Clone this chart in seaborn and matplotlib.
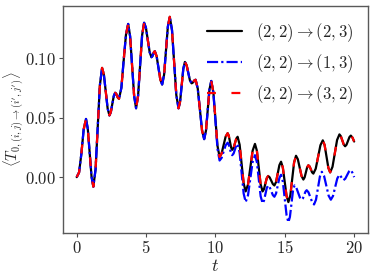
import matplotlib
matplotlib.use('Agg')
import matplotlib.pyplot as plt
import seaborn as sns
import pandas as pd

# Values
# common part of all three curves (t = 0 ... 9.7)
t_early = [0.00, 0.17, 0.34, 0.50, 0.67, 0.80, 0.935, 1.07, 1.20, 1.36, 1.515, 1.67,
           1.83, 1.96, 2.095, 2.23, 2.36, 2.46, 2.565, 2.67, 2.77, 2.84, 2.91, 2.98,
           3.05, 3.22, 3.38, 3.55, 3.71, 3.85, 3.995, 4.14, 4.28, 4.425, 4.57, 4.715,
           4.86, 4.99, 5.125, 5.26, 5.39, 5.45, 5.51, 5.57, 5.63, 5.76, 5.895, 6.03,
           6.16, 6.30, 6.435, 6.57, 6.71, 6.87, 7.025, 7.18, 7.34, 7.455, 7.57, 7.685,
           7.80, 7.92, 8.04, 8.16, 8.28, 8.35, 8.425, 8.50, 8.57, 8.725, 8.88, 9.035,
           9.19, 9.32, 9.445, 9.57, 9.70]
y_early = [0.000, 0.004, 0.020, 0.040, 0.049, 0.0407, 0.0205, 0.0003, -0.008, 0.0066, 0.042, 0.0774,
           0.092, 0.0862, 0.072, 0.0578, 0.052, 0.0548, 0.0615, 0.0682, 0.071, 0.0703, 0.0685, 0.0667,
           0.066, 0.0752, 0.0975, 0.1198, 0.129, 0.1186, 0.0935, 0.0684, 0.058, 0.0685, 0.094, 0.1195,
           0.130, 0.1258, 0.1155, 0.1052, 0.101, 0.1017, 0.1035, 0.1053, 0.106, 0.1019, 0.092, 0.0821,
           0.078, 0.0863, 0.1065, 0.1267, 0.135, 0.1238, 0.0965, 0.0692, 0.058, 0.0637, 0.0775, 0.0913,
           0.097, 0.0944, 0.088, 0.0816, 0.079, 0.0794, 0.0805, 0.0816, 0.082, 0.0747, 0.057, 0.0393,
           0.032, 0.0392, 0.0565, 0.0738, 0.081]

# (2,2)->(2,3), after t = 9.7
t_23_tail = [9.85, 10.0, 10.15, 10.30, 10.445, 10.59, 10.735, 10.88, 10.96, 11.045, 11.13,
             11.21, 11.31, 11.405, 11.50, 11.60, 11.745, 11.89, 12.035, 12.18, 12.35, 12.515,
             12.68, 12.85, 12.99, 13.125, 13.26, 13.40, 13.50, 13.60, 13.70, 13.80, 13.91,
             14.025, 14.14, 14.25, 14.37, 14.49, 14.61, 14.73, 14.86, 14.995, 15.13, 15.26,
             15.40, 15.535, 15.67, 15.81, 15.94, 16.075, 16.21, 16.34, 16.43, 16.52, 16.61,
             16.70, 16.79, 16.88, 16.97, 17.06, 17.23, 17.40, 17.57, 17.74, 17.87, 18.005,
             18.14, 18.27, 18.44, 18.605, 18.77, 18.94, 19.04, 19.145, 19.25, 19.35, 19.45,
             19.555, 19.66, 19.76, 19.88, 20.00]
y_23_tail = [0.0717, 0.049, 0.0263, 0.017, 0.0199, 0.027, 0.0341, 0.037, 0.035, 0.030, 0.025,
             0.023, 0.0246, 0.0285, 0.0324, 0.034, 0.0273, 0.011, -0.0053, -0.012, -0.0062, 0.008,
             0.0222, 0.028, 0.0222, 0.008, -0.0062, -0.012, -0.0101, -0.0055, -0.0009, 0.001, -0.0002,
             -0.003, -0.0058, -0.007, -0.0041, 0.003, 0.0101, 0.013, 0.008, -0.004, -0.016, -0.021,
             -0.0153, -0.0015, 0.0123, 0.018, 0.0151, 0.008, 0.0009, -0.002, -0.0002, 0.004, 0.0082,
             0.010, 0.009, 0.0065, 0.004, 0.003, 0.0071, 0.017, 0.0269, 0.031, 0.0271, 0.0175,
             0.0079, 0.004, 0.0087, 0.020, 0.0313, 0.036, 0.0345, 0.031, 0.0275, 0.026, 0.0273,
             0.0305, 0.0337, 0.035, 0.0333, 0.030]

# (2,2)->(1,3), after t = 9.7
t_13_tail = [9.85, 10.0, 10.15, 10.30, 10.445, 10.59, 10.735, 10.88, 10.96, 11.045, 11.13,
             11.21, 11.31, 11.405, 11.50, 11.60, 11.745, 11.89, 12.035, 12.18, 12.35, 12.515,
             12.68, 12.85, 12.99, 13.125, 13.26, 13.40, 13.50, 13.60, 13.70, 13.80, 13.91,
             14.025, 14.14, 14.25, 14.37, 14.49, 14.61, 14.73, 14.86, 14.995, 15.13, 15.26,
             15.37, 15.48, 15.59, 15.70, 15.83, 15.96, 16.09, 16.22, 16.31, 16.40, 16.49,
             16.58, 16.71, 16.845, 16.98, 17.11, 17.25, 17.39, 17.53, 17.67, 17.83, 17.995,
             18.16, 18.32, 18.475, 18.63, 18.785, 18.94, 19.01, 19.085, 19.16, 19.23, 19.36,
             19.495, 19.63, 19.76, 19.88, 20.00]
y_13_tail = [0.0712, 0.0475, 0.0238, 0.014, 0.0162, 0.0215, 0.0268, 0.029, 0.0275, 0.0238, 0.020,
             0.0185, 0.0199, 0.0233, 0.0266, 0.028, 0.0208, 0.0035, -0.0138, -0.021, -0.0152, -0.0013,
             0.0127, 0.0185, 0.0126, -0.0018, -0.0161, -0.022, -0.0198, -0.0145, -0.0092, -0.007, -0.0084,
             -0.0118, -0.0151, -0.0165, -0.0138, -0.0073, -0.0007, 0.002, -0.0038, -0.018, -0.0322, -0.038,
             -0.0335, -0.0225, -0.0115, -0.007, -0.0088, -0.013, -0.0172, -0.019, -0.0178, -0.015, -0.0122,
             -0.011, -0.0128, -0.017, -0.0212, -0.023, -0.019, -0.0093, 0.0005, 0.0045, 0.0011, -0.0073,
             -0.0156, -0.019, -0.0159, -0.0085, -0.0011, 0.002, 0.0013, -0.0003, -0.0018, -0.0025, -0.0013,
             0.0018, 0.0048, 0.006, 0.0036, 0.000]

labels = [r'$(2,2)\rightarrow(2,3)$', r'$(2,2)\rightarrow(1,3)$', r'$(2,2)\rightarrow(3,2)$']
x_ticks = [0, 5, 10, 15, 20]
y_ticks = [0.00, 0.05, 0.10]
y_ticklabels = [r'$0.00$', r'$0.05$', r'$0.10$']

df_23 = pd.DataFrame({'t': t_early + t_23_tail, 'T': y_early + y_23_tail})
df_13 = pd.DataFrame({'t': t_early + t_13_tail, 'T': y_early + y_13_tail})
df_32 = df_23.copy()  # (3,2) curve lies on top of (2,3)

sns.set_style('ticks')
plt.rcParams['mathtext.fontset'] = 'cm'
plt.rcParams['font.family'] = ['DejaVu Serif']

fig = plt.figure(figsize=(3.74, 2.79), dpi=100)
ax = fig.add_axes([0.168, 0.165, 0.816, 0.813])

sns.lineplot(data=df_23, x='t', y='T', ax=ax, color='k', lw=1.6,
             label=labels[0], sort=False, estimator=None)
sns.lineplot(data=df_13, x='t', y='T', ax=ax, color='b', lw=1.6,
             linestyle=(0, (5, 1.4, 1, 1.4)), label=labels[1], sort=False, estimator=None)
sns.lineplot(data=df_32, x='t', y='T', ax=ax, color='r', lw=1.6,
             linestyle=(0, (4.0, 7.0)), label=labels[2], sort=False, estimator=None)

ax.set_xlim(-1, 21)
ax.set_ylim(-0.047, 0.144)
ax.set_xticks(x_ticks)
ax.set_xticklabels([r'$%d$' % v for v in x_ticks])
ax.set_yticks(y_ticks)
ax.set_yticklabels(y_ticklabels)
ax.tick_params(direction='out', length=3, width=0.8, labelsize=12, color='0.3', pad=2)
for s in ax.spines.values():
    s.set_color('0.35')
    s.set_linewidth(1.0)

ax.set_xlabel(r'$t$', fontsize=13, labelpad=0)
ax.set_ylabel(r'$\langle T_{0,(i,j)\to(i^\prime,j^\prime)}\rangle$', fontsize=10.5)
ax.yaxis.set_label_coords(-0.122, 0.5)

ax.legend(loc='upper right', frameon=False, fontsize=12, handlelength=2.1)

fig.savefig('out.png', dpi=100)
